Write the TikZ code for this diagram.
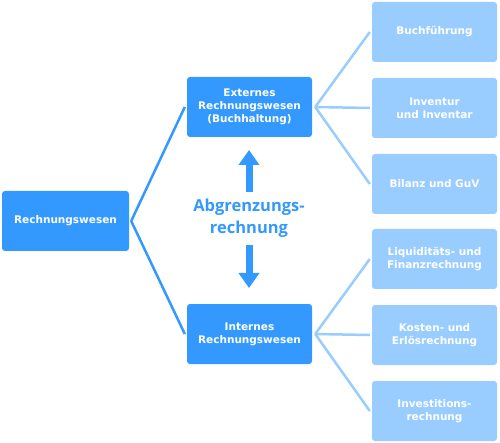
\documentclass[tikz,border=0pt]{standalone}
\usepackage{fontspec}
\setmainfont{DejaVu Sans}
\newfontfamily\bigfont{Open Sans}
\usetikzlibrary{arrows.meta}
\definecolor{dk}{HTML}{3399FF}
\definecolor{lt}{HTML}{99CCFF}
\begin{document}
\begin{tikzpicture}[x=1pt,y=-1pt,
  box/.style={rounded corners=3pt, minimum width=125pt, minimum height=60pt, text=white,
    font=\bfseries\fontsize{10.5}{13}\selectfont, align=center, inner sep=0pt},
  dbox/.style={box, fill=dk},
  lbox/.style={box, fill=lt},
  dline/.style={draw=dk, line width=2.5pt},
  lline/.style={draw=lt, line width=2.5pt},
  bigarrow/.style={draw=dk, line width=7pt, -{Triangle[width=20pt,length=15pt]}}]
\useasboundingbox (0,0) rectangle (500,443);
\node[dbox, minimum width=127pt] (root) at (65.5,221) {Rechnungswesen};
\node[dbox] (ext) at (249.5,107) {Externes\\Rechnungswesen\\(Buchhaltung)};
\node[dbox] (int) at (249.5,334) {Internes\\Rechnungswesen};
\node[lbox] (r1) at (434.5,32) {Buchführung};
\node[lbox] (r2) at (434.5,108) {Inventur\\und Inventar};
\node[lbox] (r3) at (434.5,184) {Bilanz und GuV};
\node[lbox] (r4) at (434.5,259) {Liquiditäts- und\\Finanzrechnung};
\node[lbox] (r5) at (434.5,335) {Kosten- und\\Erlösrechnung};
\node[lbox] (r6) at (434.5,411) {Investitions-\\rechnung};
\draw[dline] ([xshift=2pt]root.east) -- ([xshift=-2pt]ext.west);
\draw[dline] ([xshift=2pt]root.east) -- ([xshift=-2pt]int.west);
\foreach \r in {r1,r2,r3}
  \draw[lline] ([xshift=3pt]ext.east) -- ([xshift=-2pt]\r.west);
\foreach \r in {r4,r5,r6}
  \draw[lline] ([xshift=3pt]int.east) -- ([xshift=-2pt]\r.west);
\node[text=dk, font=\bigfont\bfseries\fontsize{16.5}{22}\selectfont, align=center] (abg) at (249,218) {Abgrenzungs-\\rechnung};
\coordinate (upA) at (249,192);
\coordinate (upB) at (249,150);
\coordinate (dnA) at (249,245);
\coordinate (dnB) at (249,288);
\draw[bigarrow] (upA) -- (upB);
\draw[bigarrow] (dnA) -- (dnB);
\end{tikzpicture}
\end{document}
